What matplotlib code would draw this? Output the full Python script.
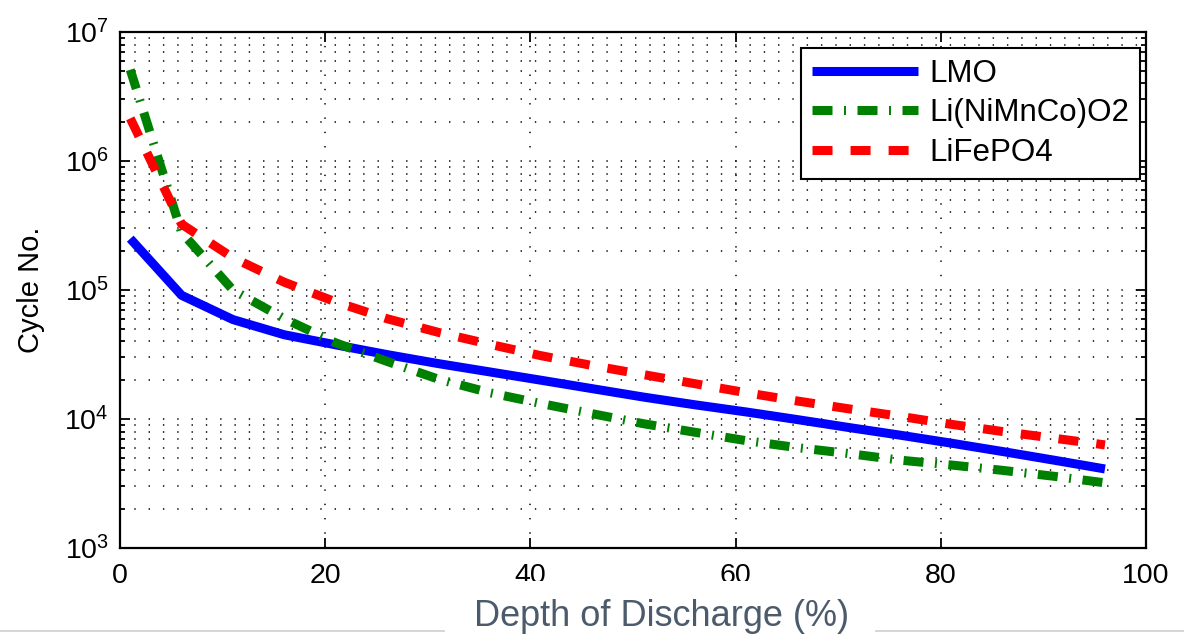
import matplotlib
matplotlib.use('Agg')
import matplotlib.pyplot as plt
from matplotlib.ticker import LogLocator, NullFormatter
from matplotlib.patches import Rectangle
from matplotlib.lines import Line2D

# depth of discharge (%) and cycle life
dod = [1, 6, 11, 16, 21, 26, 31, 36, 41, 46, 51, 56, 61, 66, 71, 76, 81, 86, 91, 96]
lmo = [2.5e5, 9.1e4, 5.9e4, 4.5e4, 3.76e4, 3.16e4, 2.69e4, 2.32e4, 2.0e4, 1.72e4,
       1.48e4, 1.29e4, 1.135e4, 9.9e3, 8.6e3, 7.5e3, 6.5e3, 5.6e3, 4.8e3, 4.1e3]
nmc = [5.1e6, 2.8e5, 1.0e5, 6.0e4, 3.9e4, 2.8e4, 2.04e4, 1.6e4, 1.32e4, 1.1e4,
       9.2e3, 7.9e3, 6.8e3, 6.0e3, 5.4e3, 4.8e3, 4.4e3, 4.0e3, 3.6e3, 3.2e3]
lfp = [2.14e6, 3.24e5, 1.78e5, 1.15e5, 8.1e4, 6.0e4, 4.7e4, 3.8e4, 3.1e4, 2.6e4,
       2.21e4, 1.88e4, 1.6e4, 1.38e4, 1.2e4, 1.05e4, 9.1e3, 8.0e3, 7.1e3, 6.3e3]
labels = ['LMO', 'Li(NiMnCo)O2', 'LiFePO4']
xticks = [0, 20, 40, 60, 80, 100]

plt.rcParams['font.family'] = ['Liberation Sans', 'DejaVu Sans']
plt.rcParams['mathtext.fontset'] = 'custom'
plt.rcParams['mathtext.rm'] = 'Liberation Sans'
plt.rcParams['mathtext.it'] = 'Liberation Sans:italic'
plt.rcParams['lines.scale_dashes'] = False

W, H = 1184, 637
fig = plt.figure(figsize=(W / 100, H / 100), dpi=100)
ax = fig.add_axes([120 / W, 1 - 548 / H, 1026 / W, 516 / H])

ax.plot(dod, lmo, color='#0000ff', lw=6.5, solid_capstyle='butt', label=labels[0])
ax.plot(dod, nmc, color='#008000', lw=6.5, linestyle=(0, (14.4, 8.3, 1.4, 8.3)),
        dash_capstyle='butt', label=labels[1])
ax.plot(dod, lfp, color='#ff0000', lw=6.5, linestyle=(0, (14.4, 13)),
        dash_capstyle='butt', label=labels[2])

ax.set_yscale('log')
ax.set_ylim(1e3, 1e7)
ax.set_xlim(0, 100)
ax.set_xticks(xticks)
ax.yaxis.set_minor_locator(LogLocator(base=10, subs=range(2, 10), numticks=20))
ax.yaxis.set_minor_formatter(NullFormatter())

# matlab style dotted grid
dots = (0, (1, 9.3))
ax.grid(True, which='major', color='black', lw=1.1, linestyle=dots)
ax.grid(True, which='minor', axis='y', color='black', lw=1.1, linestyle=dots)
ax.set_axisbelow(True)

ax.tick_params(which='both', direction='in', top=True, right=True, width=1.3)
ax.tick_params(which='major', length=7, labelsize=20.5)
ax.tick_params(which='minor', length=3.5)
ax.tick_params(axis='x', pad=11)
ax.tick_params(axis='y', pad=8)
for s in ax.spines.values():
    s.set_linewidth(1.6)

ax.set_ylabel('Cycle No.', fontsize=21)
ax.yaxis.set_label_coords(-0.073, 0.5)

leg = ax.legend(loc='upper right', bbox_to_anchor=(0.994, 0.969), borderaxespad=0,
                fancybox=False, edgecolor='black', framealpha=1, fontsize=22.5,
                handlelength=3.4, handletextpad=0.35, labelspacing=0.3, borderpad=0.35)
leg.get_frame().set_linewidth(1.5)

# page rule and the x label on its white patch
fig.add_artist(Line2D([0, 1], [1 - 631 / H] * 2, color='#d0d0d0', lw=1.2, zorder=4))
fig.add_artist(Rectangle((445 / W, 0), 430 / W, 56 / H, transform=fig.transFigure,
                         facecolor='white', edgecolor='none', zorder=5))
fig.text(662 / W, 1 - 617 / H, 'Depth of Discharge (%)', ha='center', va='center',
         fontsize=26, color='#4b5b6b', zorder=6)

fig.savefig('out.png', dpi=100)
